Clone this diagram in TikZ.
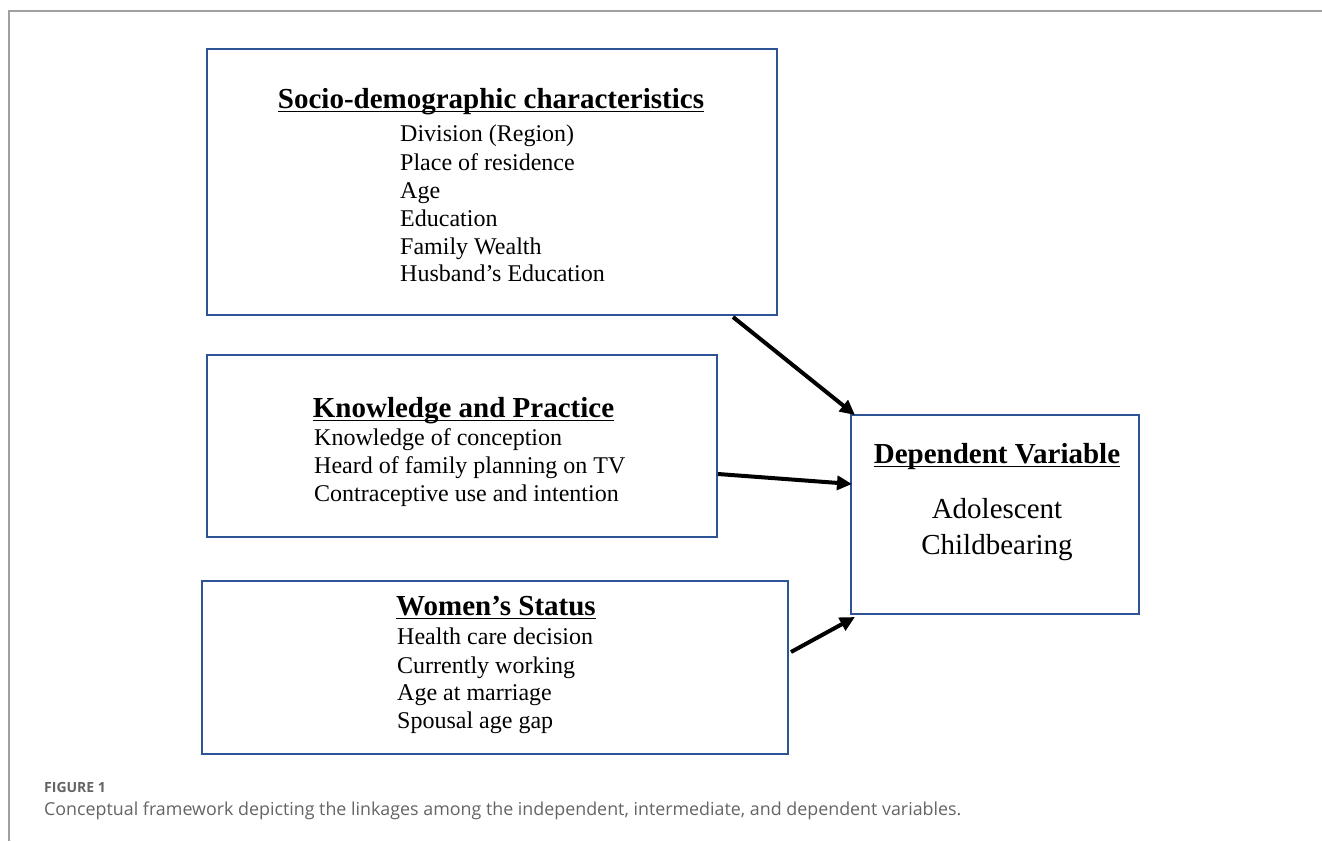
\documentclass[tikz,border=0pt]{standalone}
\usepackage{fontspec}
\setmainfont{Liberation Serif}
\newfontfamily\capfont{Open Sans}
\usetikzlibrary{arrows.meta}
\definecolor{boxblue}{RGB}{47,84,150}
\definecolor{framegray}{RGB}{160,160,160}
\definecolor{capgray}{RGB}{100,100,100}
\begin{document}
\begin{tikzpicture}[x=1pt,y=-1pt,
  box/.style={draw=boxblue,line width=1.8pt,inner sep=0pt},
  ttl/.style={inner sep=0pt,anchor=base,font=\fontsize{29}{33}\selectfont\bfseries},
  itm/.style={inner sep=0pt,anchor=base west,font=\fontsize{24}{28}\selectfont},
  dtx/.style={inner sep=0pt,anchor=base,font=\fontsize{29}{33}\selectfont},
  uln/.style={line width=1.8pt},
  arr/.style={line width=4pt,-{Triangle[length=15pt,width=14pt]}},
  captext/.style={inner sep=0pt,anchor=base west,text=capgray}]
\useasboundingbox (0,0) rectangle (1322,841);
% frame
\draw[framegray,line width=1.4pt] (1322,11) -- (9,11) -- (9,841);
% boxes
\node[box,minimum width=570pt,minimum height=266pt] (socio) at (492,182) {};
\node[box,minimum width=510pt,minimum height=182pt] (know) at (462,446) {};
\node[box,minimum width=586pt,minimum height=173pt] (women) at (495,667.5) {};
\node[box,minimum width=288pt,minimum height=199pt] (dep) at (995,514.5) {};
% socio text
\node[ttl] (st) at (491,108) {Socio-demographic characteristics};
\node[itm] (s1) at (400,141) {Division (Region)};
\node[itm] (s2) at (400,170) {Place of residence};
\node[itm] (s3) at (400,198) {Age};
\node[itm] (s4) at (400,226) {Education};
\node[itm] (s5) at (400,254) {Family Wealth};
\node[itm] (s6) at (400,281) {Husband’s Education};
% knowledge text
\node[ttl] (kt) at (463.5,417) {Knowledge and Practice};
\node[itm] (k1) at (314,445) {Knowledge of conception};
\node[itm] (k2) at (314,473) {Heard of family planning on TV};
\node[itm] (k3) at (314,501) {Contraceptive use and intention};
% women text
\node[ttl] (wt) at (496,615) {Women’s Status};
\node[itm] (w1) at (397,644) {Health care decision};
\node[itm] (w2) at (397,673) {Currently working};
\node[itm] (w3) at (397,700) {Age at marriage};
\node[itm] (w4) at (397,728) {Spousal age gap};
% dependent text
\node[ttl] (dt) at (997,463) {Dependent Variable};
\node[dtx] (d1) at (997,518) {Adolescent};
\node[dtx] (d2) at (997,554) {Childbearing};
% underlines
\foreach \t in {st,kt,wt,dt}
  \draw[uln] ([yshift=-3.5pt]\t.base west) -- ([yshift=-3.5pt]\t.base east);
% arrows
\coordinate (a1) at (733,317);
\coordinate (a2) at (718,474);
\coordinate (a3) at (791,652);
\coordinate (e1) at (855,415);
\coordinate (e2) at (852,484);
\coordinate (e3) at (855,617);
\draw[arr] (a1) -- (e1);
\draw[arr] (a2) -- (e2);
\draw[arr] (a3) -- (e3);
% caption
\node[captext,font=\capfont\fontsize{14}{16}\selectfont\bfseries] (fig) at (44,792) {FIGURE 1};
\node[captext,font=\capfont\fontsize{17.85}{20}\selectfont] (captxt) at (44,815) {Conceptual framework depicting the linkages among the independent, intermediate, and dependent variables.};
\end{tikzpicture}
\end{document}
